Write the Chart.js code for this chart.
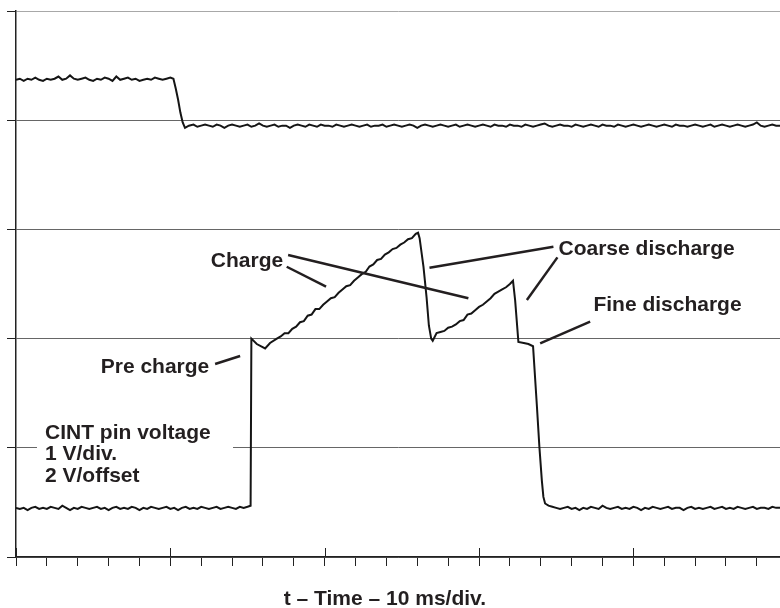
<!DOCTYPE html>
<html>
<head>
<meta charset="utf-8">
<title>CINT pin voltage</title>
<script src="https://cdn.jsdelivr.net/npm/chart.js@4.4.1/dist/chart.umd.min.js"></script>
<style>
    html, body { margin: 0; padding: 0; background: #fff; }
    canvas { display: block; }
</style>
</head>
<body>
<canvas id="scope" width="780" height="608"></canvas>
<script>
'use strict';

// время в мс, напряжение в делениях (1 В/дел.)
const TOP_T = [
    0, 0.25, 0.5, 0.75, 1, 1.25, 1.5, 1.75, 2, 2.25,
    2.5, 2.75, 3, 3.25, 3.5, 3.75, 4, 4.25, 4.5, 4.75,
    5, 5.25, 5.5, 5.75, 6, 6.25, 6.5, 6.75, 7, 7.25,
    7.5, 7.75, 8, 8.25, 8.5, 8.75, 9, 9.25, 9.5, 9.75,
    10,
    10.2, 10.35, 10.5, 10.65, 10.8, 10.95, 11.2,
    11.5, 11.75, 12, 12.25, 12.5, 12.75, 13, 13.25, 13.5, 13.75,
    14, 14.25, 14.5, 14.75, 15, 15.25, 15.5, 15.75, 16, 16.25,
    16.5, 16.75, 17, 17.25, 17.5, 17.75, 18, 18.25, 18.5, 18.75,
    19, 19.25, 19.5, 19.75, 20, 20.25, 20.5, 20.75, 21, 21.25,
    21.5, 21.75, 22, 22.25, 22.5, 22.75, 23, 23.25, 23.5, 23.75,
    24, 24.25, 24.5, 24.75, 25, 25.25, 25.5, 25.75, 26, 26.25,
    26.5, 26.75, 27, 27.25, 27.5, 27.75, 28, 28.25, 28.5, 28.75,
    29, 29.25, 29.5, 29.75, 30, 30.25, 30.5, 30.75, 31, 31.25,
    31.5, 31.75, 32, 32.25, 32.5, 32.75, 33, 33.25, 33.5, 33.75,
    34, 34.25, 34.5, 34.75, 35, 35.25, 35.5, 35.75, 36, 36.25,
    36.5, 36.75, 37, 37.25, 37.5, 37.75, 38, 38.25, 38.5, 38.75,
    39, 39.25, 39.5, 39.75, 40, 40.25, 40.5, 40.75, 41, 41.25,
    41.5, 41.75, 42, 42.25, 42.5, 42.75, 43, 43.25, 43.5, 43.75,
    44, 44.25, 44.5, 44.75, 45, 45.25, 45.5, 45.75, 46, 46.25,
    46.5, 46.75, 47, 47.25, 47.5, 47.75, 48, 48.25, 48.5, 48.75,
    49, 49.25, 49.5
];
const TOP_V = [
    4.37, 4.38, 4.36, 4.38, 4.37, 4.39, 4.37, 4.36, 4.38, 4.37,
    4.38, 4.40, 4.37, 4.38, 4.41, 4.38, 4.37, 4.38, 4.39, 4.37,
    4.36, 4.38, 4.37, 4.39, 4.38, 4.36, 4.40, 4.37, 4.38, 4.39,
    4.37, 4.38, 4.36, 4.37, 4.38, 4.37, 4.39, 4.38, 4.37, 4.38,
    4.39,
    4.38, 4.29, 4.19, 4.07, 3.98, 3.93, 3.95,
    3.96, 3.94, 3.95, 3.96, 3.95, 3.94, 3.96, 3.95, 3.93, 3.95,
    3.96, 3.95, 3.94, 3.95, 3.96, 3.94, 3.95, 3.97, 3.95, 3.94,
    3.95, 3.96, 3.94, 3.95, 3.95, 3.93, 3.95, 3.96, 3.95, 3.94,
    3.96, 3.95, 3.94, 3.96, 3.95, 3.95, 3.94, 3.96, 3.95, 3.94,
    3.95, 3.96, 3.95, 3.94, 3.95, 3.96, 3.94, 3.95, 3.95, 3.96,
    3.94, 3.95, 3.96, 3.95, 3.94, 3.95, 3.96, 3.95, 3.93, 3.95,
    3.96, 3.95, 3.94, 3.95, 3.96, 3.95, 3.94, 3.95, 3.96, 3.94,
    3.95, 3.96, 3.95, 3.94, 3.95, 3.96, 3.95, 3.94, 3.96, 3.95,
    3.95, 3.94, 3.96, 3.95, 3.95, 3.94, 3.96, 3.95, 3.94, 3.95,
    3.96, 3.97, 3.95, 3.94, 3.95, 3.96, 3.95, 3.95, 3.94, 3.96,
    3.95, 3.94, 3.95, 3.96, 3.95, 3.94, 3.96, 3.95, 3.95, 3.94,
    3.96, 3.95, 3.94, 3.95, 3.96, 3.95, 3.94, 3.95, 3.96, 3.95,
    3.94, 3.95, 3.96, 3.95, 3.94, 3.96, 3.95, 3.95, 3.94, 3.95,
    3.96, 3.95, 3.94, 3.95, 3.96, 3.94, 3.95, 3.96, 3.95, 3.94,
    3.95, 3.96, 3.95, 3.94, 3.95, 3.96, 3.98, 3.95, 3.94, 3.95,
    3.96, 3.95, 3.95
];

// напряжение на выводе CINT: предзаряд, два заряда, грубый и точный разряд
const CINT_T = [
    0, 0.25, 0.5, 0.75, 1, 1.25, 1.5, 1.75, 2, 2.25,
    2.5, 2.75, 3, 3.25, 3.5, 3.75, 4, 4.25, 4.5, 4.75,
    5, 5.25, 5.5, 5.75, 6, 6.25, 6.5, 6.75, 7, 7.25,
    7.5, 7.75, 8, 8.25, 8.5, 8.75, 9, 9.25, 9.5, 9.75,
    10, 10.25, 10.5, 10.75, 11, 11.25, 11.5, 11.75, 12, 12.25,
    12.5, 12.75, 13, 13.25, 13.5, 13.75, 14, 14.25, 14.5, 14.75,
    15,
    15.2, 15.25, 15.6, 16.14, 16.46, 16.9,
    17.15, 17.4, 17.65, 17.9, 18.15, 18.4, 18.65, 18.9, 19.15, 19.4,
    19.65, 19.9, 20.15, 20.4, 20.65, 20.9, 21.15, 21.4, 21.65, 21.9,
    22.15, 22.4, 22.65, 22.9, 23.15, 23.4, 23.65, 23.9, 24.15, 24.4,
    24.65, 24.9, 25.15, 25.4, 25.65, 25.9, 26.05,
    26.15, 26.4, 26.6, 26.75, 26.9, 27.0,
    27.25, 27.5, 27.75, 28, 28.25, 28.5, 28.75, 29, 29.25, 29.5,
    29.75, 30, 30.25, 30.5, 30.75, 31, 31.25, 31.5, 31.75, 32, 32.2,
    32.34, 32.55, 32.9, 33.2, 33.5,
    33.75, 33.91, 34.07, 34.17, 34.28, 34.5,
    34.75, 35, 35.25, 35.5, 35.75, 36, 36.25, 36.5, 36.75, 37,
    37.25, 37.5, 37.75, 38, 38.25, 38.5, 38.75, 39, 39.25, 39.5,
    39.75, 40, 40.25, 40.5, 40.75, 41, 41.25, 41.5, 41.75, 42,
    42.25, 42.5, 42.75, 43, 43.25, 43.5, 43.75, 44, 44.25, 44.5,
    44.75, 45, 45.25, 45.5, 45.75, 46, 46.25, 46.5, 46.75, 47,
    47.25, 47.5, 47.75, 48, 48.25, 48.5, 48.75, 49, 49.25, 49.5
];
const CINT_V = [
    0.45, 0.44, 0.45, 0.43, 0.45, 0.46, 0.44, 0.45, 0.44, 0.46,
    0.45, 0.44, 0.47, 0.45, 0.43, 0.45, 0.44, 0.46, 0.45, 0.44,
    0.45, 0.46, 0.44, 0.45, 0.43, 0.45, 0.46, 0.44, 0.45, 0.44,
    0.46, 0.45, 0.43, 0.45, 0.44, 0.46, 0.45, 0.44, 0.45, 0.46,
    0.44, 0.45, 0.43, 0.45, 0.46, 0.44, 0.45, 0.44, 0.46, 0.45,
    0.44, 0.45, 0.46, 0.44, 0.45, 0.46, 0.45, 0.44, 0.46, 0.45,
    0.46,
    0.47, 2.00, 1.95, 1.91, 1.96, 2.00,
    2.02, 2.05, 2.05, 2.09, 2.11, 2.15, 2.16, 2.21, 2.22, 2.27,
    2.27, 2.31, 2.34, 2.37, 2.38, 2.42, 2.45, 2.48, 2.49, 2.53,
    2.56, 2.59, 2.61, 2.66, 2.68, 2.72, 2.73, 2.77, 2.79, 2.82,
    2.83, 2.86, 2.88, 2.91, 2.92, 2.96, 2.97,
    2.92, 2.66, 2.38, 2.12, 2.00, 1.98,
    2.05, 2.06, 2.07, 2.10, 2.11, 2.13, 2.16, 2.17, 2.22, 2.23,
    2.26, 2.29, 2.31, 2.34, 2.37, 2.41, 2.43, 2.45, 2.47, 2.50, 2.53,
    2.35, 1.97, 1.96, 1.95, 1.93,
    1.38, 1.01, 0.70, 0.55, 0.49, 0.47,
    0.46, 0.45, 0.44, 0.45, 0.46, 0.44, 0.45, 0.43, 0.45, 0.44,
    0.46, 0.45, 0.44, 0.47, 0.45, 0.44, 0.45, 0.46, 0.44, 0.45,
    0.44, 0.46, 0.45, 0.43, 0.45, 0.44, 0.46, 0.45, 0.44, 0.45,
    0.46, 0.44, 0.45, 0.45, 0.43, 0.45, 0.46, 0.44, 0.45, 0.44,
    0.45, 0.46, 0.44, 0.45, 0.46, 0.44, 0.45, 0.44, 0.46, 0.45,
    0.44, 0.45, 0.46, 0.44, 0.45, 0.45, 0.44, 0.46, 0.45, 0.45
];

// деления шкалы времени: мелкие через 2 мс, крупные через 10 мс
const TIME_TICKS = [0, 2, 4, 6, 8, 10, 12, 14, 16, 18, 20, 22, 24, 26, 28, 30, 32, 34, 36, 38, 40, 42, 44, 46, 48];
const TIME_MAJOR = [0, 10, 20, 30, 40];
const X_TITLE = 't – Time – 10 ms/div.';

// подписи (мс, дел. — базовая линия первой строки)
const LABEL_TEXTS = [['Charge'], ['Coarse discharge'], ['Fine discharge'], ['Pre charge'],
    ['CINT pin voltage', '1 V/div.', '2 V/offset']];
const LABEL_AT = [[12.62, 2.658], [35.15, 2.766], [37.41, 2.253], [5.49, 1.688], [1.88, 1.078]];
// выноски: x1, y1, x2, y2
const LEADERS = [
    [17.63, 2.766, 29.31, 2.369],
    [17.54, 2.658, 20.09, 2.475],
    [26.79, 2.649, 34.82, 2.842],
    [35.08, 2.744, 33.10, 2.353],
    [33.96, 1.957, 37.20, 2.155],
    [12.90, 1.767, 14.52, 1.841],
];
// белая подложка под многострочной подписью
const LEGEND_BOX = [1.36, 1.255, 14.06, 0.632];

const INK = '#231f20';
const FONT = 'bold 21px "Liberation Sans", Arial, sans-serif';

function points(ts, vs) {
    return ts.map((t, i) => ({ x: t, y: vs[i] }));
}

// подложка рисуется поверх сетки, но под кривыми
const legendBoxPlugin = {
    id: 'legendBox',
    beforeDatasetsDraw(chart) {
        const { ctx, scales: { x, y } } = chart;
        let x1 = x.getPixelForValue(LEGEND_BOX[0]);
        let y1 = y.getPixelForValue(LEGEND_BOX[1]);
        let x2 = x.getPixelForValue(LEGEND_BOX[2]);
        let y2 = y.getPixelForValue(LEGEND_BOX[3]);
        ctx.save();
        ctx.fillStyle = '#fff';
        ctx.fillRect(x1, y1, x2 - x1, y2 - y1);
        ctx.restore();
    },
};

// крупные деления вверх от оси, подписи, выноски и название оси
const annotationsPlugin = {
    id: 'annotations',
    afterDatasetsDraw(chart) {
        const { ctx, chartArea, scales: { x, y } } = chart;
        ctx.save();

        ctx.strokeStyle = '#222';
        ctx.lineWidth = 1;
        for (let v of TIME_MAJOR) {
            let px = Math.round(x.getPixelForValue(v)) + 0.5;
            ctx.beginPath();
            ctx.moveTo(px, chartArea.bottom - 9);
            ctx.lineTo(px, chartArea.bottom);
            ctx.stroke();
        }

        ctx.strokeStyle = INK;
        ctx.lineWidth = 2.5;
        ctx.lineCap = 'butt';
        for (let l of LEADERS) {
            ctx.beginPath();
            ctx.moveTo(x.getPixelForValue(l[0]), y.getPixelForValue(l[1]));
            ctx.lineTo(x.getPixelForValue(l[2]), y.getPixelForValue(l[3]));
            ctx.stroke();
        }

        ctx.fillStyle = INK;
        ctx.font = FONT;
        ctx.textAlign = 'left';
        ctx.textBaseline = 'alphabetic';
        LABEL_TEXTS.forEach((lines, i) => {
            let px = x.getPixelForValue(LABEL_AT[i][0]);
            let py = y.getPixelForValue(LABEL_AT[i][1]);
            lines.forEach((s, k) => ctx.fillText(s, px, py + k * 21.2));
        });

        ctx.textAlign = 'center';
        ctx.fillText(X_TITLE, x.getPixelForValue(23.9), chartArea.bottom + 48);
        ctx.restore();
    },
};

const cfg = {
    type: 'line',
    data: {
        datasets: [
            {
                data: points(TOP_T, TOP_V),
                borderColor: '#151515',
                borderWidth: 2,
                pointRadius: 0,
                tension: 0,
            },
            {
                data: points(CINT_T, CINT_V),
                borderColor: '#151515',
                borderWidth: 2,
                pointRadius: 0,
                tension: 0,
            },
        ],
    },
    options: {
        responsive: false,
        animation: false,
        devicePixelRatio: 1,
        layout: { padding: { left: 7, top: 11, right: 0, bottom: 42 } },
        plugins: {
            legend: { display: false },
            tooltip: { enabled: false },
        },
        scales: {
            x: {
                type: 'linear',
                min: 0,
                max: 49.5,
                afterBuildTicks: (scale) => {
                    scale.ticks = TIME_TICKS.map((v) => ({ value: v }));
                },
                ticks: { display: false },
                grid: {
                    drawOnChartArea: false,
                    drawTicks: true,
                    tickLength: 9,
                    color: '#222',
                    lineWidth: 1,
                },
                border: { display: true, color: '#222', width: 1.5 },
            },
            y: {
                type: 'linear',
                min: 0,
                max: 5,
                ticks: { display: false, stepSize: 1 },
                grid: {
                    drawTicks: true,
                    tickLength: 9,
                    tickColor: '#222',
                    color: (c) => (c.tick && c.tick.value === 5 ? '#a8a8a8' : '#666'),
                    lineWidth: 1,
                },
                border: { display: true, color: '#222', width: 1.5 },
            },
        },
    },
    plugins: [legendBoxPlugin, annotationsPlugin],
};

new Chart(document.getElementById('scope').getContext('2d'), cfg);
</script>
</body>
</html>
